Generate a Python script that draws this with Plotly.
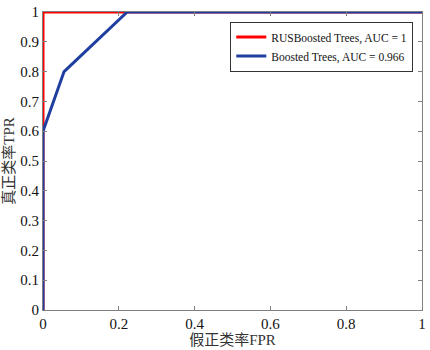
import plotly.graph_objects as go

rus_fpr = [0, 0, 1]
rus_tpr = [0, 1, 1]
bt_fpr = [0, 0, 0.0556, 0.2222, 1]
bt_tpr = [0, 0.6, 0.8, 1, 1]
names = ["RUSBoosted Trees, AUC = 1", "Boosted Trees, AUC = 0.966"]
x_ticks = [0, 0.2, 0.4, 0.6, 0.8, 1]
y_ticks = [0, 0.1, 0.2, 0.3, 0.4, 0.5, 0.6, 0.7, 0.8, 0.9, 1]

SERIF = "'Times New Roman', 'Liberation Serif', serif"
CJK = "'Times New Roman', 'Liberation Serif', 'Noto Sans CJK SC', serif"

fig = go.Figure()
fig.add_trace(go.Scatter(x=rus_fpr, y=rus_tpr, mode="lines", name=names[0],
                         line=dict(color="#ff0000", width=3)))
fig.add_trace(go.Scatter(x=bt_fpr, y=bt_tpr, mode="lines", name=names[1],
                         line=dict(color="#1f3fa0", width=3)))

axis_common = dict(showgrid=False, zeroline=False, showline=True, mirror="ticks",
                   linecolor="#808080", linewidth=1, ticks="inside", ticklen=4,
                   tickcolor="#808080", automargin=False, range=[0, 1],
                   tickfont=dict(family=SERIF, size=15, color="#111"))
fig.update_xaxes(tickvals=x_ticks, ticktext=[f"{v:g}" for v in x_ticks],
                 title=dict(text="假正类率FPR", standoff=0,
                            font=dict(family=CJK, size=15, color="#333")),
                 **axis_common)
fig.update_yaxes(tickvals=y_ticks, ticktext=[f"{v:g}" for v in y_ticks],
                 title=dict(text="真正类率TPR", standoff=2,
                            font=dict(family=CJK, size=15, color="#333")),
                 **axis_common)

fig.update_layout(
    width=430, height=350,
    margin=dict(l=43, r=8, t=12, b=40),
    plot_bgcolor="white", paper_bgcolor="white",
    showlegend=True,
    legend=dict(x=0.977, y=0.968, xanchor="right", yanchor="top",
                bgcolor="white", bordercolor="#333", borderwidth=1,
                font=dict(family=SERIF, size=11.5, color="#111"),
                tracegroupgap=0, itemwidth=30),
)
fig.write_html("out.html", config={"displayModeBar": False},
               post_script="document.body.style.margin='0';")
